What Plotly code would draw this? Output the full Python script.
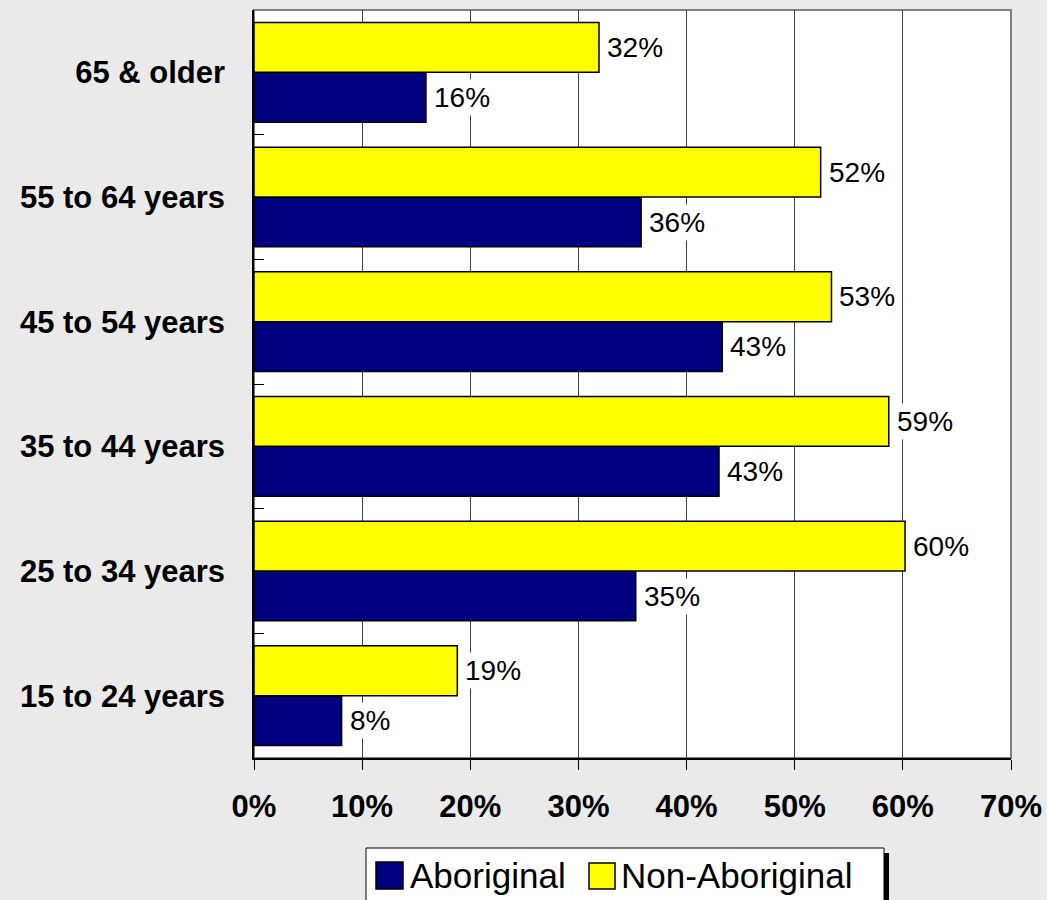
import plotly.graph_objects as go

categories = ["15 to 24 years", "25 to 34 years", "35 to 44 years",
              "45 to 54 years", "55 to 64 years", "65 & older"]
aboriginal = [8.1, 35.3, 43.0, 43.3, 35.8, 15.9]
non_aboriginal = [18.8, 60.2, 58.7, 53.4, 52.4, 31.9]
x_ticks = [0, 10, 20, 30, 40, 50, 60, 70]
x_tick_labels = [f"{t}%" for t in x_ticks]
series_names = ["Aboriginal", "Non-Aboriginal"]

NAVY = "#000080"
YELLOW = "#FFFF00"
BG = "#EAEAEA"
FONT = "Liberation Sans, Arial, sans-serif"

fig = go.Figure()
fig.add_trace(go.Bar(y=categories, x=aboriginal, orientation="h", name=series_names[0],
                     marker=dict(color=NAVY, line=dict(color="black", width=1.5)),
                     showlegend=False, hoverinfo="x+y"))
fig.add_trace(go.Bar(y=categories, x=non_aboriginal, orientation="h", name=series_names[1],
                     marker=dict(color=YELLOW, line=dict(color="black", width=1.5)),
                     showlegend=False, hoverinfo="x+y"))

annotations = []
for cat, a, n in zip(categories, aboriginal, non_aboriginal):
    for val, shift in ((a, -25), (n, 25)):
        annotations.append(dict(
            x=val, y=cat, xref="x", yref="y", text=f"{round(val)}%",
            showarrow=False, xanchor="left", yanchor="middle", xshift=5, yshift=shift,
            bgcolor="white", borderpad=2,
            font=dict(family=FONT, size=28, color="black")))

# custom legend (paper coordinates relative to plot area)
def px_x(p):
    return (p - 254) / 757.0

def px_y(p):
    return (758 - p) / 748.0

shapes = [
    # plot-area frame (gray top/right)
    dict(type="rect", xref="paper", yref="paper", x0=0, x1=1, y0=0, y1=1,
         line=dict(color="#808080", width=2), layer="below"),
    # legend shadow
    dict(type="rect", xref="paper", yref="paper", x0=px_x(884), x1=px_x(889),
         y0=px_y(853), y1=px_y(910), fillcolor="black", line=dict(width=0)),
    # legend box
    dict(type="rect", xref="paper", yref="paper", x0=px_x(366), x1=px_x(884),
         y0=px_y(848), y1=px_y(910), fillcolor="white", line=dict(color="black", width=1)),
    dict(type="rect", xref="paper", yref="paper", x0=px_x(376), x1=px_x(403),
         y0=px_y(862), y1=px_y(889), fillcolor=NAVY, line=dict(color="black", width=1.5)),
    dict(type="rect", xref="paper", yref="paper", x0=px_x(589), x1=px_x(615),
         y0=px_y(863), y1=px_y(889), fillcolor=YELLOW, line=dict(color="black", width=1.5)),
]
annotations.append(dict(x=px_x(408), y=px_y(875), xref="paper", yref="paper",
                        text=series_names[0], showarrow=False, xanchor="left", yanchor="middle",
                        font=dict(family=FONT, size=35, color="black")))
annotations.append(dict(x=px_x(619), y=px_y(875), xref="paper", yref="paper",
                        text=series_names[1], showarrow=False, xanchor="left", yanchor="middle",
                        font=dict(family=FONT, size=35, color="black")))

fig.update_layout(
    width=1047, height=900,
    margin=dict(l=254, r=36, t=10, b=142, autoexpand=False),
    paper_bgcolor=BG, plot_bgcolor="white",
    barmode="group", bargap=0.2, bargroupgap=0,
    showlegend=False,
    annotations=annotations, shapes=shapes,
    font=dict(family=FONT, color="black"),
)
fig.update_xaxes(range=[0, 70], tickvals=x_ticks, ticktext=x_tick_labels,
                 showgrid=True, gridcolor="#404040", gridwidth=1,
                 showline=True, linecolor="black", linewidth=1.5,
                 ticks="outside", ticklen=10, tickcolor="black", tickwidth=1,
                 ticklabelstandoff=10,
                 tickfont=dict(family=FONT, size=31, color="black", weight="bold"),
                 zeroline=False, fixedrange=True)
fig.update_yaxes(categoryorder="array", categoryarray=categories,
                 showgrid=False, showline=True, linecolor="black", linewidth=1.5,
                 ticks="inside", tickson="boundaries", ticklen=10, tickcolor="black",
                 ticklabelstandoff=21,
                 tickfont=dict(family=FONT, size=31, color="black", weight="bold"),
                 fixedrange=True)

fig.write_html("out.html", config={"displayModeBar": False},
               post_script="document.body.style.margin='0px';document.body.style.padding='0px';")
